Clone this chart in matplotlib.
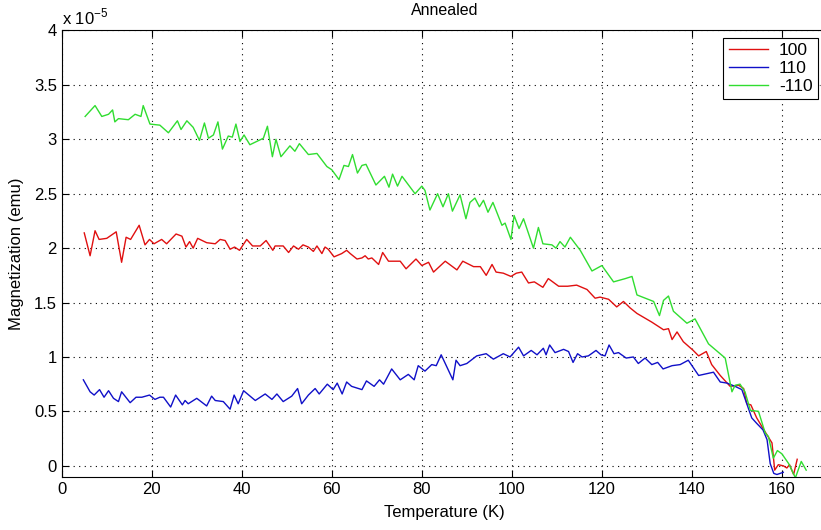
import numpy as np
import matplotlib
matplotlib.use('Agg')
import matplotlib.pyplot as plt
from matplotlib.ticker import FuncFormatter

plt.rcParams['font.family'] = ['Liberation Sans', 'DejaVu Sans']
plt.rcParams['mathtext.fontset'] = 'custom'
plt.rcParams['mathtext.rm'] = 'Liberation Sans'

# magnetization in units of 1e-5 emu
t_100 = [5.0, 6.3, 7.4, 8.3, 10.0, 12.1, 13.3, 14.3, 15.3, 17.2, 18.5, 19.5, 20.5, 22.2, 23.3,
         25.4, 26.7, 27.6, 28.4, 29.2, 30.2, 32.2, 34.1, 35.2, 36.3, 37.4, 38.4, 39.5, 41.1, 42.4,
         44.1, 45.4, 46.9, 47.4, 49.2, 50.4, 51.5, 52.6, 53.6, 54.8, 55.9, 56.7, 57.8, 58.5, 59.2,
         60.5, 62.2, 63.3, 64.1, 65.6, 66.7, 67.4, 68.1, 68.9, 70.4, 71.3, 72.6, 75.2, 76.5, 78.7,
         80.0, 81.5, 82.6, 85.2, 87.8, 89.1, 91.5, 93.0, 94.3, 95.6, 96.5, 98.1, 99.8, 101.0, 102.2,
         103.7, 105.0, 106.9, 108.1, 110.4, 112.4, 114.4, 116.7, 118.5, 119.6, 121.5, 123.3, 124.8,
         126.3, 127.8, 131.1, 133.7, 134.8, 135.6, 136.7, 138.1, 140.3, 141.5, 143.2, 144.4, 146.3,
         148.5, 150.4, 151.5, 152.2, 153.1, 154.4, 156.3, 157.8, 158.4, 159.2, 160.3, 161.1, 161.7,
         162.6, 163.4]
m_100 = [2.14, 1.93, 2.16, 2.08, 2.09, 2.15, 1.87, 2.10, 2.08, 2.21, 2.03, 2.08, 2.04, 2.08, 2.04,
         2.13, 2.11, 2.01, 2.06, 2.00, 2.09, 2.05, 2.04, 2.08, 2.07, 1.99, 2.01, 1.98, 2.08, 2.02,
         2.02, 2.07, 1.98, 2.02, 2.02, 1.96, 2.02, 1.99, 2.03, 2.01, 1.97, 2.02, 1.95, 2.01, 1.99,
         1.92, 1.95, 1.98, 1.95, 1.90, 1.91, 1.93, 1.90, 1.91, 1.85, 1.96, 1.88, 1.88, 1.81, 1.90,
         1.84, 1.87, 1.78, 1.88, 1.80, 1.88, 1.83, 1.83, 1.75, 1.85, 1.78, 1.77, 1.74, 1.77, 1.78,
         1.68, 1.69, 1.64, 1.72, 1.65, 1.65, 1.66, 1.62, 1.54, 1.55, 1.53, 1.46, 1.51,
         1.45, 1.40, 1.32, 1.25, 1.26, 1.16, 1.23, 1.14, 1.06, 1.01, 1.05, 0.93, 0.83,
         0.73, 0.74, 0.71, 0.57, 0.56, 0.44, 0.31, 0.21, -0.04, 0.01, 0.00, -0.02, 0.01,
         -0.08, 0.06]

t_110 = [4.8, 6.3, 7.2, 8.4, 9.4, 10.4, 11.5, 12.6, 13.3, 15.2, 16.5, 17.8, 19.5, 20.7, 21.8,
         22.6, 24.2, 25.3, 26.8, 27.4, 28.1, 30.0, 32.2, 33.3, 34.1, 35.9, 37.4, 38.3, 39.2, 40.4,
         43.0, 45.2, 46.7, 47.8, 49.2, 51.1, 52.4, 53.3, 54.8, 56.3, 57.2, 59.0, 60.3, 61.2, 62.3,
         63.3, 64.4, 66.7, 67.7, 69.4, 70.6, 71.5, 73.3, 75.2, 77.0, 78.3, 79.2, 80.7, 82.2, 83.2,
         84.3, 86.9, 87.6, 88.5, 90.0, 92.2, 94.3, 95.9, 98.1, 99.6, 101.5, 102.6, 104.3, 105.6,
         107.0, 107.6, 108.4, 109.6, 111.5, 112.6, 113.6, 114.6, 115.6, 117.0, 118.7, 119.8, 120.7,
         121.6, 122.7, 123.7, 125.4, 127.0, 128.1, 129.6, 131.1, 132.4, 133.6, 135.6, 137.4, 139.2,
         141.5, 144.8, 146.3, 147.8, 149.6, 151.1, 152.2, 153.3, 154.4, 155.8, 156.7, 157.4, 158.2,
         158.9, 160.3]
m_110 = [0.79, 0.68, 0.65, 0.70, 0.63, 0.69, 0.62, 0.59, 0.68, 0.58, 0.63, 0.63, 0.65, 0.61, 0.63,
         0.63, 0.54, 0.65, 0.56, 0.60, 0.57, 0.62, 0.55, 0.64, 0.60, 0.59, 0.52, 0.65, 0.57, 0.69,
         0.60, 0.66, 0.61, 0.66, 0.59, 0.64, 0.71, 0.57, 0.65, 0.71, 0.66, 0.75, 0.70, 0.76, 0.66,
         0.77, 0.73, 0.70, 0.78, 0.73, 0.79, 0.75, 0.89, 0.79, 0.84, 0.79, 0.92, 0.87, 0.93, 0.92,
         1.02, 0.79, 0.97, 0.92, 0.94, 1.01, 1.03, 0.98, 1.03, 1.00, 1.09, 1.01, 1.06, 1.02,
         1.08, 1.02, 1.11, 1.04, 1.07, 1.05, 0.95, 1.03, 1.00, 1.01, 1.06, 1.02, 1.01,
         1.11, 1.03, 1.04, 0.99, 1.00, 0.94, 0.99, 0.93, 0.95, 0.89, 0.92, 0.93, 0.97,
         0.83, 0.86, 0.77, 0.76, 0.73, 0.70, 0.57, 0.44, 0.39, 0.33, 0.24, 0.02, -0.07,
         -0.08, -0.06]

t_m110 = [5.2, 7.4, 8.9, 10.4, 11.3, 11.8, 12.6, 14.8, 16.3, 17.6, 18.1, 19.6, 21.8, 23.7, 25.7,
          26.5, 27.8, 29.2, 30.6, 31.7, 32.6, 33.7, 34.7, 35.7, 37.0, 37.9, 38.7, 39.6, 40.5, 41.8,
          44.8, 45.7, 46.8, 47.6, 48.7, 50.7, 51.8, 52.8, 54.8, 56.7, 58.9, 60.0, 61.6, 62.7, 63.7,
          64.6, 65.7, 66.7, 67.6, 69.8, 71.7, 72.7, 73.5, 74.6, 75.6, 78.5, 80.0, 80.7, 81.8, 83.5,
          84.7, 85.9, 86.8, 88.5, 89.8, 90.7, 91.8, 92.8, 93.7, 94.7, 95.8, 97.8, 98.5, 99.8, 100.5,
          101.6, 102.6, 104.8, 105.9, 106.9, 108.9, 109.8, 110.7, 111.8, 113.0, 115.2, 117.8, 120.0,
          122.6, 125.2, 126.7, 127.8, 131.5, 132.8, 133.7, 134.8, 135.9, 138.9, 140.7, 143.7, 147.4,
          148.9, 149.6, 150.7, 151.8, 153.0, 154.8, 156.3, 157.0, 158.1, 159.0, 160.0, 161.5, 163.0,
          164.3, 165.4]
m_m110 = [3.21, 3.31, 3.21, 3.23, 3.27, 3.16, 3.19, 3.18, 3.23, 3.21, 3.31, 3.14, 3.13, 3.06, 3.17,
          3.09, 3.17, 3.11, 2.99, 3.15, 3.01, 3.04, 3.16, 2.91, 3.03, 3.02, 3.14, 2.98, 3.04, 2.95,
          3.01, 3.12, 2.84, 3.00, 2.84, 2.94, 2.89, 2.96, 2.86, 2.87, 2.75, 2.72, 2.63, 2.76, 2.75,
          2.86, 2.69, 2.76, 2.77, 2.58, 2.66, 2.56, 2.68, 2.57, 2.66, 2.50, 2.57, 2.53, 2.35, 2.50,
          2.38, 2.50, 2.34, 2.49, 2.27, 2.42, 2.46, 2.38, 2.44, 2.33, 2.42, 2.21, 2.23, 2.08, 2.30,
          2.18, 2.27, 2.00, 2.19, 2.04, 2.03, 2.00, 2.06, 2.01, 2.10, 1.98, 1.79, 1.84,
          1.69, 1.72, 1.74, 1.57, 1.51, 1.38, 1.52, 1.56, 1.42, 1.31, 1.35, 1.12, 0.99,
          0.68, 0.74, 0.75, 0.68, 0.51, 0.50, 0.30, 0.27, 0.07, 0.14, 0.11, 0.02, -0.11,
          0.04, -0.04]

labels = ['100', '110', '-110']
colors = ['#e01010', '#1010c8', '#30dd30']
scale = 1e-5

fig = plt.figure(figsize=(8.21, 5.30), dpi=100)
ax = fig.add_axes([0.0752, 0.1006, 0.932, 0.8419])

series = [(t_100, m_100), (t_110, m_110), (t_m110, m_m110)]
for (t, m), lab, c in zip(series, labels, colors):
    ax.plot(t, np.array(m) * scale, color=c, lw=1.0, label=lab)

ax.set_xlim(0, 170)
ax.set_ylim(-0.1 * scale, 4 * scale)
ax.set_xticks(np.arange(0, 170, 20))
ax.set_yticks(np.arange(0, 4.01, 0.5) * scale)
ax.yaxis.set_major_formatter(FuncFormatter(lambda v, p: '%g' % round(v / scale, 2)))
ax.tick_params(direction='in', length=5, top=True, right=True, labelsize=12, width=0.8)
ax.grid(True, color='black', linestyle=(0, (1, 4)), linewidth=0.8)
for s in ax.spines.values():
    s.set_linewidth(0.8)

ax.text(0, 1.008, r'x 10$^{-5}$', transform=ax.transAxes, fontsize=12, ha='left', va='bottom')
ax.set_title('Annealed', fontsize=11.5, pad=11)
ax.set_xlabel('Temperature (K)', fontsize=12, labelpad=6)
ax.set_ylabel('Magnetization (emu)', fontsize=12, labelpad=7)

leg = ax.legend(loc='upper right', bbox_to_anchor=(0.988, 0.983), borderaxespad=0,
                fancybox=False, framealpha=1, edgecolor='black', fontsize=12.5,
                handlelength=2.3, handletextpad=0.6, borderpad=0.3, labelspacing=0.15)
leg.get_frame().set_linewidth(0.8)

fig.savefig('out.png', dpi=100)
